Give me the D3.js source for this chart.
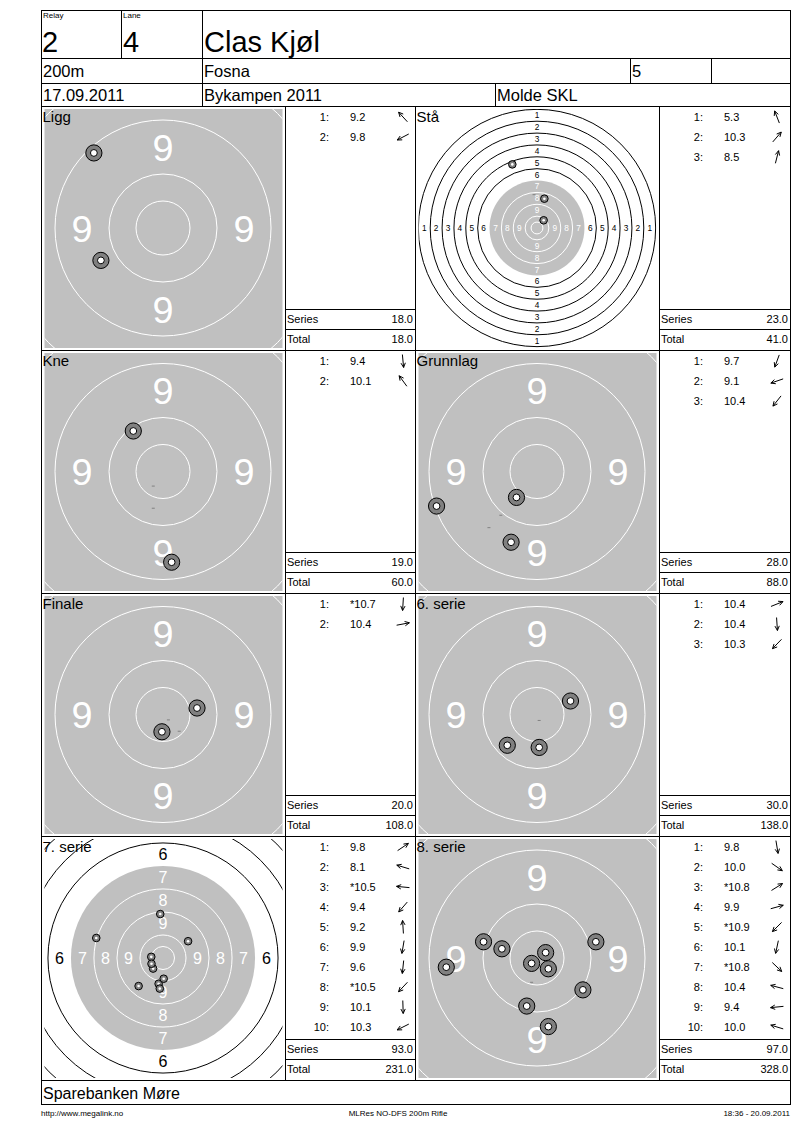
<!DOCTYPE html>
<html><head><meta charset="utf-8">
<script src="https://cdn.jsdelivr.net/npm/d3@7"></script>
<style>
body{margin:0;background:#fff;}
svg text{font-family:"Liberation Sans", Arial, sans-serif;}
</style></head><body>
<svg id="c" width="800" height="1130"></svg>
<script>
// ---------- header / footer texts ----------
const relayLabel = "Relay", laneLabel = "Lane";
const relay = "2", lane = "4", shooterName = "Clas Kjøl";
const distanceLabel = "200m", club = "Fosna", classLabel = "5";
const dateLabel = "17.09.2011", eventName = "Bykampen 2011", organizer = "Molde SKL";
const sponsor = "Sparebanken Møre";
const footerLeft = "http://www.megalink.no", footerMid = "MLRes NO-DFS 200m Rifle", footerRight = "18:36 - 20.09.2011";

// ---------- series data ----------
const seriesNames = ["Ligg","Stå","Kne","Grunnlag","Finale","6. serie","7. serie","8. serie"];
// half width of the visible target area, in ring widths
const viewHalfRings = [2.25, 10.24, 2.25, 2.25, 2.25, 2.25, 5.28, 2.25];
const shotScores = [
  ["9.2","9.8"],
  ["5.3","10.3","8.5"],
  ["9.4","10.1"],
  ["9.7","9.1","10.4"],
  ["*10.7","10.4"],
  ["10.4","10.4","10.3"],
  ["9.8","8.1","*10.5","9.4","9.2","9.9","9.6","*10.5","10.1","10.3"],
  ["9.8","10.0","*10.8","9.9","*10.9","10.1","*10.8","10.4","9.4","10.0"]
];
// shot positions in ring widths from centre (x right, y down)
const shotX = [
  [-1.28,-1.15],
  [-2.08,0.56,0.62],
  [0.16,-0.55],
  [-0.48,-1.86,-0.38],
  [-0.02,0.63],
  [0.62,0.04,-0.55],
  [1.09,-2.90,-0.51,-1.06,-0.12,-0.19,-0.14,-0.43,0.03,-0.50],
  [0.21,0.85,0.16,1.09,-0.10,-0.19,0.21,-0.65,-1.68,-0.99]
];
const shotY = [
  [-1.39,0.60],
  [-5.36,-0.65,-2.47],
  [1.68,-0.75],
  [1.31,0.64,0.48],
  [0.32,-0.12],
  [-0.25,0.61,0.57],
  [-0.73,-0.87,-0.05,1.22,-1.91,1.12,1.33,0.46,0.90,0.25],
  [1.27,0.59,-0.10,-0.30,0.10,0.89,0.20,-0.17,0.17,-0.30]
];
// small grey plot marks
const markX = [[],[-0.25],[-0.18,-0.18],[-0.67,-0.89],[0.10,0.30],[0.04],[],[-0.13,-0.07,-0.10]];
const markY = [[],[-2.81],[0.27,0.68],[0.81,1.04],[0.10,0.31],[0.11],[],[0.23,0.23,0.45]];
const seriesSums = ["18.0","23.0","19.0","28.0","20.0","30.0","93.0","97.0"];
const runningTotals = ["18.0","41.0","60.0","88.0","108.0","138.0","231.0","328.0"];
const ringNumbers = [1,2,3,4,5,6,7,8,9];

// ---------- layout ----------
const X = [41, 285, 415, 659, 790];
const XR = 790;
const headerY = [10, 58, 83, 106];
const rowTops = [106, 350, 593, 836, 1080];
const footY = 1104;
const GREY = "#c0c0c0", DARK = "#808080";

const svg = d3.select("#c");
const defs = svg.append("defs");
const lines = svg.append("g").attr("stroke","#000").attr("stroke-width",1).attr("shape-rendering","crispEdges");
function hline(x1,x2,y){ lines.append("line").attr("x1",x1).attr("x2",x2+1).attr("y1",y+0.5).attr("y2",y+0.5); }
function vline(x,y1,y2){ lines.append("line").attr("x1",x+0.5).attr("x2",x+0.5).attr("y1",y1).attr("y2",y2+1); }
function txt(x,y,s,size,anchor){ return svg.append("text").attr("x",x).attr("y",y).attr("font-size",size).attr("text-anchor",anchor||"start").attr("fill","#000").text(s); }

// ---------- header ----------
hline(X[0],XR,headerY[0]); hline(X[0],XR,headerY[1]); hline(X[0],XR,headerY[2]); hline(X[0],XR,headerY[3]);
vline(121,headerY[0],headerY[1]); vline(202,headerY[0],headerY[3]);
vline(630,headerY[1],headerY[2]); vline(711,headerY[1],headerY[2]);
vline(495,headerY[2],headerY[3]);
txt(43,18,relayLabel,8); txt(123,18,laneLabel,8);
txt(42,52,relay,29); txt(123,52,lane,29); txt(204,52,shooterName,29);
txt(43,77,distanceLabel,16.5); txt(204,77,club,16.5); txt(632,77,classLabel,16.5);
txt(43,101,dateLabel,16.5); txt(204,101,eventName,16.5); txt(497,101,organizer,16.5);

// ---------- panels ----------
seriesNames.forEach((name, i) => {
  const col = i % 2, row = Math.floor(i / 2);
  const tx0 = X[col*2], tx1 = X[col*2+1], lx0 = X[col*2+1], lx1 = X[col*2+2];
  const top = rowTops[row], bottom = rowTops[row+1];
  const cx = (tx0 + tx1) / 2, cy = (top + bottom) / 2;
  const half = 121.5, v = viewHalfRings[i];
  const xs = d3.scaleLinear().domain([-v, v]).range([cx - half, cx + half]);
  const ys = d3.scaleLinear().domain([-v, v]).range([cy - half, cy + half]);
  const u = xs(1) - xs(0);

  const clipId = "clip" + i;
  defs.append("clipPath").attr("id", clipId).append("rect")
    .attr("x", tx0 + 3.5).attr("y", top + 3).attr("width", tx1 - tx0 - 6).attr("height", bottom - top - 5);
  const g = svg.append("g").attr("clip-path", `url(#${clipId})`);
  // black zone (rings 7-10) drawn grey
  g.append("circle").attr("cx", cx).attr("cy", cy).attr("r", 4*u).attr("fill", GREY);
  // ring lines
  const ringRadii = [0.5,1,2,3,5,6,7,8,9,10];
  g.selectAll(null).data(ringRadii).enter().append("circle")
    .attr("cx", cx).attr("cy", cy).attr("r", d => d*u)
    .attr("fill","none").attr("stroke", d => d < 4 ? "#fff" : "#000").attr("stroke-width",1);
  // ring numbers on the four axes
  const fs = 0.7*u;
  const labs = [];
  ringNumbers.forEach(n => {
    const d = 10.5 - n;
    if (d + 0.3 > v) return;
    [[0,-1],[0,1],[-1,0],[1,0]].forEach(([dx,dy]) => labs.push({n, x: dx*d, y: dy*d}));
  });
  g.selectAll(null).data(labs).enter().append("text")
    .attr("x", d => xs(d.x)).attr("y", d => ys(d.y) + fs*0.36)
    .attr("text-anchor","middle").attr("font-size", fs)
    .attr("fill", d => d.n >= 7 ? "#fff" : "#000").text(d => d.n);
  // marks
  markX[i].forEach((mx, k) => {
    g.append("line").attr("x1", xs(mx)-1.5).attr("x2", xs(mx)+1.5)
      .attr("y1", ys(markY[i][k])).attr("y2", ys(markY[i][k]))
      .attr("stroke", DARK).attr("stroke-width", 1);
  });
  // shots
  const R = Math.max(3.8, 0.15*u);
  const shots = shotX[i].map((sx, k) => ({x: sx, y: shotY[i][k]}));
  shots.forEach(s => {
    g.append("circle").attr("cx", xs(s.x)).attr("cy", ys(s.y)).attr("r", R)
      .attr("fill", DARK).attr("stroke", "#000").attr("stroke-width", 1);
    g.append("circle").attr("cx", xs(s.x)).attr("cy", ys(s.y)).attr("r", R > 5 ? R*0.42 : 1.3)
      .attr("fill", "#fff").attr("stroke", R > 5 ? "#000" : "none").attr("stroke-width", 1);
  });
  // title
  txt(tx0 + 1.5, top + 15.5, name, 15);

  // ---------- list ----------
  const ix = lx0 + 44, vx = lx0 + 65, ax = lx0 + 118;
  shotScores[i].forEach((sc, k) => {
    const yy = top + 11 + k*20;
    txt(ix, yy + 4, (k+1) + ":", 11, "end");
    txt(vx, yy + 4, sc, 11);
    const ang = Math.atan2(shots[k].y, shots[k].x);
    const c = Math.cos(ang), s = Math.sin(ang), L = 6.5;
    const x2 = ax + c*L, y2 = yy + s*L;
    const p = d3.path();
    p.moveTo(ax - c*L, yy - s*L); p.lineTo(x2, y2);
    [0.45, -0.45].forEach(a => {
      p.moveTo(x2, y2); p.lineTo(x2 - 5*Math.cos(ang + a), y2 - 5*Math.sin(ang + a));
    });
    svg.append("path").attr("d", p.toString()).attr("stroke","#000").attr("stroke-width",1).attr("fill","none");
  });
  hline(lx0, lx1, bottom - 41);
  hline(lx0, lx1, bottom - 21);
  txt(lx0 + 2, bottom - 27, "Series", 11);
  txt(lx1 - 2, bottom - 27, seriesSums[i], 11, "end");
  txt(lx0 + 2, bottom - 7, "Total", 11);
  txt(lx1 - 2, bottom - 7, runningTotals[i], 11, "end");
});

// grid lines
rowTops.slice(1, 4).forEach(y => hline(X[0], X[4], y));
[1,2,3].forEach(k => vline(X[k], rowTops[0], rowTops[4]));
vline(X[0], headerY[0], footY); vline(XR, headerY[0], footY);
hline(X[0], XR, rowTops[4]); hline(X[0], XR, footY);

// ---------- footer ----------
txt(43, 1099, sponsor, 16);
txt(41, 1116, footerLeft, 8);
txt(398, 1116, footerMid, 8, "middle");
txt(790, 1116, footerRight, 8, "end");
</script>
</body></html>
